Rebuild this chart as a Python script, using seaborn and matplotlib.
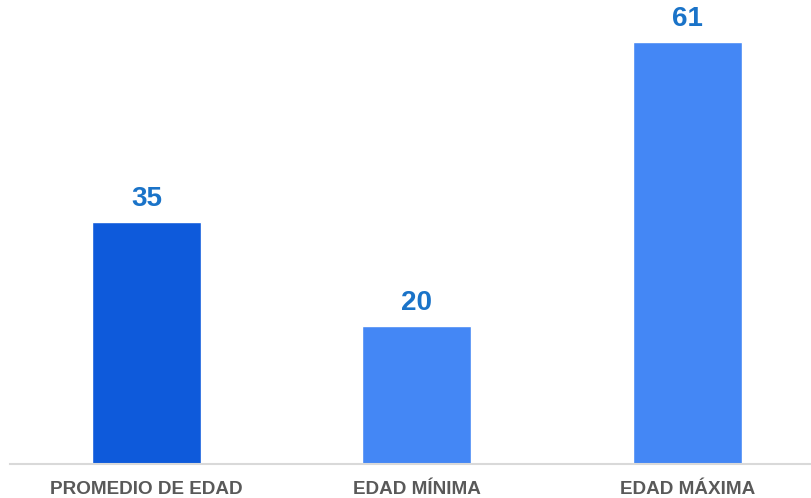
import matplotlib
matplotlib.use("Agg")
import matplotlib.pyplot as plt
import seaborn as sns
import pandas as pd

# datos
categorias = ["PROMEDIO DE EDAD", "EDAD MÍNIMA", "EDAD MÁXIMA"]
valores = [35, 20, 61]
colores = ["#0E5ADB", "#4487F5", "#4487F5"]

sns.set_style("white")
plt.rcParams['font.family'] = ['Liberation Sans', 'DejaVu Sans']

df = pd.DataFrame({"categoria": categorias, "valor": valores})

fig = plt.figure(figsize=(8.11, 4.98), dpi=100)
ax = fig.add_axes([10 / 811, 34 / 498, 801 / 811, 464 / 498])

sns.barplot(data=df, x="categoria", y="valor", hue="categoria", palette=colores,
            width=0.403, legend=False, ax=ax, saturation=1)

for i, v in enumerate(valores):
    ax.annotate(str(v), (i, v), xytext=(0, 7), textcoords="offset points",
                ha="center", va="bottom", fontsize=20, fontweight="bold", color="#1A73C8")

ax.set_xlim(-0.505, 2.457)
ax.set_ylim(0, 67.06)
ax.set_xlabel("")
ax.set_ylabel("")
ax.set_yticks([])
ax.tick_params(axis="x", length=0, pad=12, labelsize=13.6, labelcolor="#595959")
for lbl in ax.get_xticklabels():
    lbl.set_fontweight("bold")
for s in ["top", "right", "left"]:
    ax.spines[s].set_visible(False)
ax.spines["bottom"].set_color("#D9D9D9")
ax.spines["bottom"].set_linewidth(1.5)

plt.savefig("out.png", dpi=100)
